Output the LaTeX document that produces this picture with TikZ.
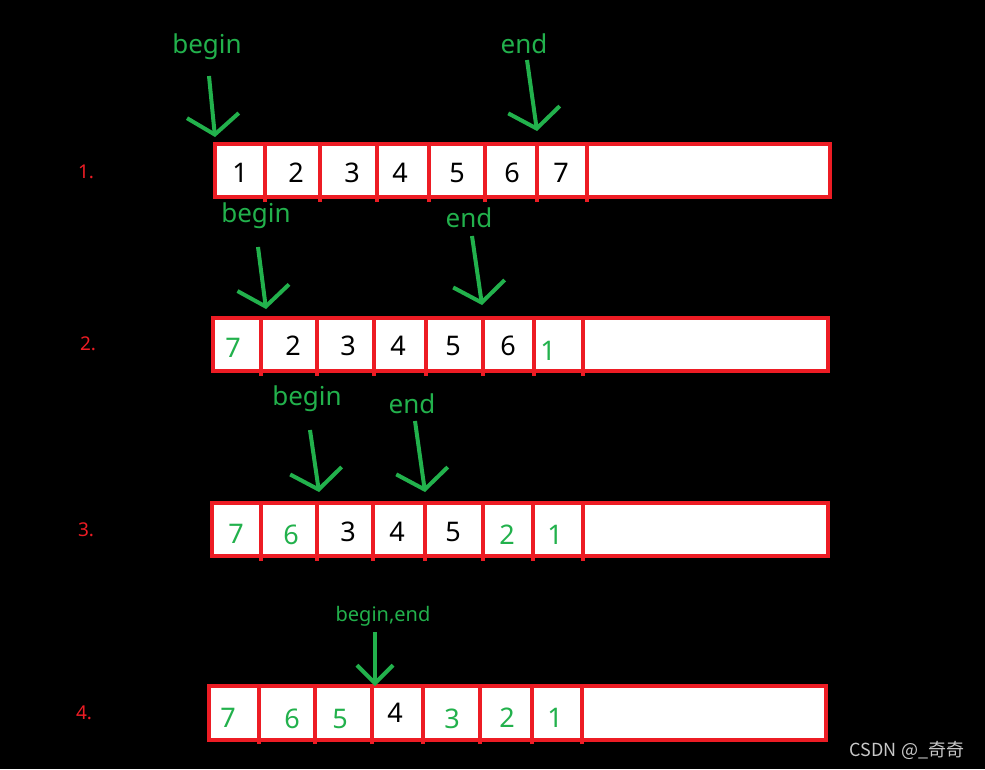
\documentclass[tikz,border=0pt]{standalone}
\usepackage{fontspec}
\setmainfont{Noto Sans}
\newfontfamily\cjk{Noto Sans CJK SC}
\usetikzlibrary{arrows.meta}
\definecolor{pred}{HTML}{ED1C24}
\definecolor{pgreen}{HTML}{22B14C}
\definecolor{wmark}{HTML}{C8C8C8}
\begin{document}
\begin{tikzpicture}[x=1pt,y=-1pt,
  rowbox/.style={draw=pred, line width=4.5pt, fill=white},
  divider/.style={draw=pred, line width=3.5pt},
  num/.style={font=\fontsize{27}{27}\selectfont, text=black, inner sep=0pt},
  gnum/.style={num, text=pgreen},
  ptrtext/.style={font=\fontsize{26}{26}\selectfont, text=pgreen, inner sep=0pt},
  smallptr/.style={font=\fontsize{20}{20}\selectfont, text=pgreen, inner sep=0pt},
  steplabel/.style={font=\fontsize{19}{19}\selectfont, text=pred, inner sep=0pt},
  pointer/.style={draw=pgreen, line width=4pt, -{Straight Barb[length=19pt,width=52pt]}},
  smallpointer/.style={draw=pgreen, line width=4pt, -{Straight Barb[length=18pt,width=36pt]}}
]
\fill[black] (0,0) rectangle (985,769);
\useasboundingbox (0,0) rectangle (985,769);

% ---------- row 1 ----------
\draw[rowbox] (215,144) rectangle (830,197);
\foreach \x in {265,320,377,429,485,537,587}
  \draw[divider] (\x,144) -- (\x,202);
\node[num] (n11) at (240,173) {1};
\node[num] (n12) at (296,173) {2};
\node[num] (n13) at (352,173) {3};
\node[num] (n14) at (400,173) {4};
\node[num] (n15) at (457,173) {5};
\node[num] (n16) at (512,173) {6};
\node[num] (n17) at (561,173) {7};
\node[steplabel] (s1) at (86,172) {1.};

% ---------- row 2 ----------
\draw[rowbox] (213,318) rectangle (828,371);
\foreach \x in {261,317,374,426,483,534,583}
  \draw[divider] (\x,318) -- (\x,376);
\node[gnum] (n21) at (233,348) {7};
\node[num]  (n22) at (293,346) {2};
\node[num]  (n23) at (348,346) {3};
\node[num]  (n24) at (398,346) {4};
\node[num]  (n25) at (453,346) {5};
\node[num]  (n26) at (508,346) {6};
\node[gnum] (n27) at (548,351) {1};
\node[steplabel] (s2) at (88,344) {2.};

% ---------- row 3 ----------
\draw[rowbox] (212,503) rectangle (828,556);
\foreach \x in {261,317,373,425,483,533,583}
  \draw[divider] (\x,503) -- (\x,561);
\node[gnum] (n31) at (236,534) {7};
\node[gnum] (n32) at (291,535) {6};
\node[num]  (n33) at (348,532) {3};
\node[num]  (n34) at (397,532) {4};
\node[num]  (n35) at (453,532) {5};
\node[gnum] (n36) at (507,535) {2};
\node[gnum] (n37) at (555,535) {1};
\node[steplabel] (s3) at (86,530) {3.};

% ---------- row 4 ----------
\draw[rowbox] (209,686) rectangle (826,740);
\foreach \x in {259,315,372,423,480,532,582}
  \draw[divider] (\x,686) -- (\x,744);
\node[gnum] (n41) at (228,718) {7};
\node[gnum] (n42) at (292,719) {6};
\node[gnum] (n43) at (340,719) {5};
\node[num]  (n44) at (395,713) {4};
\node[gnum] (n45) at (452,719) {3};
\node[gnum] (n46) at (507,718) {2};
\node[gnum] (n47) at (555,718) {1};
\node[steplabel] (s4) at (84,713) {4.};

% ---------- pointers ----------
\node[ptrtext] (b1) at (207,47) {begin};
\node[ptrtext] (e1) at (524,44) {end};
\coordinate (b1s) at (209,76);  \coordinate (b1t) at (215,137);
\coordinate (e1s) at (527,60);  \coordinate (e1t) at (537,131);
\draw[pointer] (b1s) -- (b1t);
\draw[pointer] (e1s) -- (e1t);

\node[ptrtext] (b2) at (256,216) {begin};
\node[ptrtext] (e2) at (469,218) {end};
\coordinate (b2s) at (258,247); \coordinate (b2t) at (266,309);
\coordinate (e2s) at (472,236); \coordinate (e2t) at (482,305);
\draw[pointer] (b2s) -- (b2t);
\draw[pointer] (e2s) -- (e2t);

\node[ptrtext] (b3) at (307,399) {begin};
\node[ptrtext] (e3) at (412,404) {end};
\coordinate (b3s) at (310,430); \coordinate (b3t) at (319,492);
\coordinate (e3s) at (415,421); \coordinate (e3t) at (425,492);
\draw[pointer] (b3s) -- (b3t);
\draw[pointer] (e3s) -- (e3t);

\node[smallptr] (be4) at (383,616) {begin,end};
\coordinate (be4s) at (375,632); \coordinate (be4t) at (375,686);
\draw[smallpointer] (be4s) -- (be4t);

% ---------- watermark ----------
\node[font=\cjk\fontsize{18}{18}\selectfont, text=wmark, inner sep=0pt] (wm) at (907,750) {CSDN @\_奇奇};
\end{tikzpicture}
\end{document}
